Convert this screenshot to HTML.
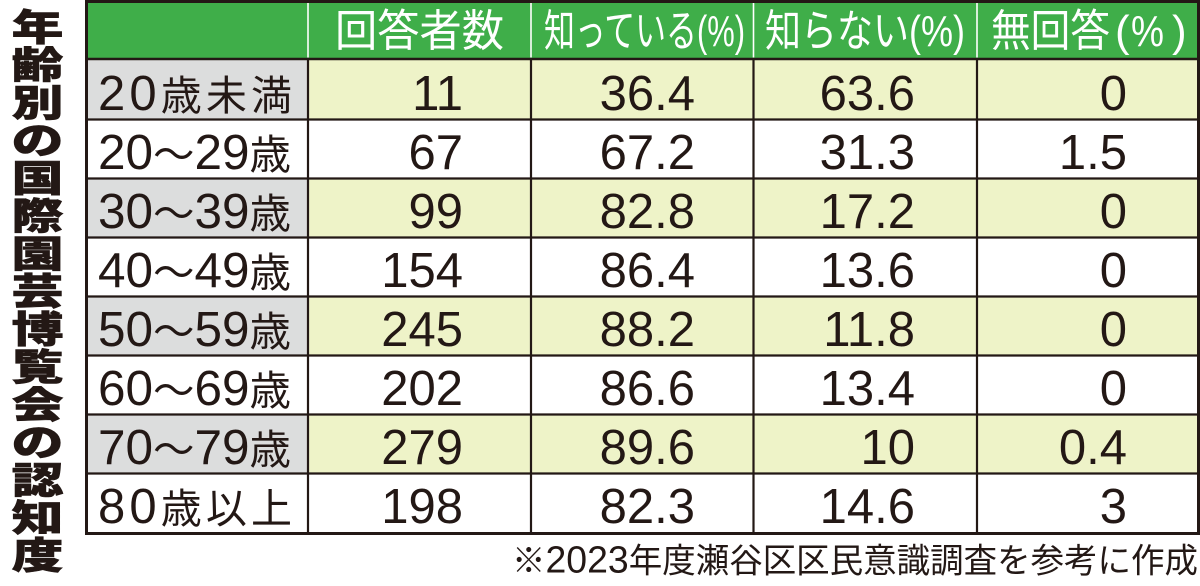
<!DOCTYPE html>
<html lang="ja">
<head>
<meta charset="utf-8">
<style>
  html,body{margin:0;padding:0;background:#fff;}
  svg{display:block;}
  .d{font-family:"Liberation Sans","Noto Sans CJK JP",sans-serif;font-size:49px;fill:#231815;}
  .j{font-family:"Noto Sans CJK JP","Liberation Sans",sans-serif;font-size:41px;fill:#231815;}
  .h{font-family:"Liberation Sans","Noto Sans CJK JP",sans-serif;font-size:44px;fill:#ffffff;}
  .hj{font-family:"Noto Sans CJK JP","Liberation Sans",sans-serif;font-size:44px;fill:#ffffff;}
  .t{font-family:"Noto Sans CJK JP","Liberation Sans",sans-serif;font-size:37px;font-weight:900;fill:#231815;stroke:#231815;stroke-width:0.6;}
  .f{font-family:"Liberation Sans","Noto Sans CJK JP",sans-serif;font-size:34px;fill:#231815;}
</style>
</head>
<body>
<svg width="1200" height="586" viewBox="0 0 1200 586" xmlns="http://www.w3.org/2000/svg">
  <!-- Title (vertical) -->
  <g transform="translate(37.5,0) scale(1.4,1)">
    <text class="t" x="0" y="40.5" text-anchor="middle">年</text>
    <text class="t" x="0" y="78.2" text-anchor="middle">齢</text>
    <text class="t" x="0" y="116" text-anchor="middle">別</text>
    <text class="t" x="0" y="153.7" text-anchor="middle">の</text>
    <text class="t" x="0" y="191.4" text-anchor="middle">国</text>
    <text class="t" x="0" y="229.2" text-anchor="middle">際</text>
    <text class="t" x="0" y="266.9" text-anchor="middle">園</text>
    <text class="t" x="0" y="304.6" text-anchor="middle">芸</text>
    <text class="t" x="0" y="342.3" text-anchor="middle">博</text>
    <text class="t" x="0" y="380.1" text-anchor="middle">覧</text>
    <text class="t" x="0" y="417.8" text-anchor="middle">会</text>
    <text class="t" x="0" y="455.5" text-anchor="middle">の</text>
    <text class="t" x="0" y="493.3" text-anchor="middle">認</text>
    <text class="t" x="0" y="531" text-anchor="middle">知</text>
    <text class="t" x="0" y="568.7" text-anchor="middle">度</text>
  </g>

  <!-- Header background -->
  <rect x="86" y="2" width="1112" height="57" fill="#3fae49"/>

  <!-- Row backgrounds (odd rows shaded) -->
  <g>
    <rect x="88" y="60" width="220" height="59" fill="#dcdddd"/>
    <rect x="308" y="60" width="889" height="59" fill="#eef3c8"/>
    <rect x="88" y="178" width="220" height="59" fill="#dcdddd"/>
    <rect x="308" y="178" width="889" height="59" fill="#eef3c8"/>
    <rect x="88" y="296" width="220" height="59" fill="#dcdddd"/>
    <rect x="308" y="296" width="889" height="59" fill="#eef3c8"/>
    <rect x="88" y="414" width="220" height="59" fill="#dcdddd"/>
    <rect x="308" y="414" width="889" height="59" fill="#eef3c8"/>
  </g>

  <!-- Grid lines -->
  <g stroke="#231815" stroke-width="2.2">
    <line x1="86" y1="119.5" x2="1198" y2="119.5"/>
    <line x1="86" y1="178.5" x2="1198" y2="178.5"/>
    <line x1="86" y1="237.5" x2="1198" y2="237.5"/>
    <line x1="86" y1="296.5" x2="1198" y2="296.5"/>
    <line x1="86" y1="355.5" x2="1198" y2="355.5"/>
    <line x1="86" y1="414.5" x2="1198" y2="414.5"/>
    <line x1="86" y1="473.5" x2="1198" y2="473.5"/>
    <line x1="308" y1="59" x2="308" y2="533"/>
    <line x1="531" y1="59" x2="531" y2="533"/>
    <line x1="753.5" y1="59" x2="753.5" y2="533"/>
    <line x1="977" y1="59" x2="977" y2="533"/>
  </g>
  <line x1="86" y1="59" x2="1198" y2="59" stroke="#231815" stroke-width="2.6"/>
  <!-- header white dividers -->
  <g stroke="#ffffff" stroke-width="1.6">
    <line x1="308" y1="3" x2="308" y2="57.5"/>
    <line x1="531" y1="3" x2="531" y2="57.5"/>
    <line x1="753.5" y1="3" x2="753.5" y2="57.5"/>
    <line x1="977" y1="3" x2="977" y2="57.5"/>
  </g>
  <!-- outer border -->
  <rect x="86.5" y="1.5" width="1112" height="532" fill="none" stroke="#231815" stroke-width="3"/>

  <!-- Header text -->
  <text class="hj" x="335" y="46" textLength="169" lengthAdjust="spacingAndGlyphs">回答者数</text>
  <text class="h" x="544" y="46" textLength="201" lengthAdjust="spacingAndGlyphs">知っている(%)</text>
  <text class="h" x="765" y="46" textLength="200" lengthAdjust="spacingAndGlyphs">知らない(%)</text>
  <text class="hj" x="991" y="46" textLength="119" lengthAdjust="spacingAndGlyphs">無回答</text>
  <text class="h" x="1115" y="46">(</text>
  <text class="h" x="1131" y="46" textLength="33" lengthAdjust="spacingAndGlyphs">%</text>
  <text class="h" x="1172" y="46">)</text>

  <!-- Row labels -->
  <g>
    <text x="98" y="110" textLength="194" lengthAdjust="spacing"><tspan class="d">20</tspan><tspan class="j">歳未満</tspan></text>
    <text x="98" y="169" textLength="193" lengthAdjust="spacingAndGlyphs"><tspan class="d">20</tspan><tspan class="j">〜</tspan><tspan class="d">29</tspan><tspan class="j">歳</tspan></text>
    <text x="98" y="228" textLength="193" lengthAdjust="spacingAndGlyphs"><tspan class="d">30</tspan><tspan class="j">〜</tspan><tspan class="d">39</tspan><tspan class="j">歳</tspan></text>
    <text x="98" y="287" textLength="193" lengthAdjust="spacingAndGlyphs"><tspan class="d">40</tspan><tspan class="j">〜</tspan><tspan class="d">49</tspan><tspan class="j">歳</tspan></text>
    <text x="98" y="346" textLength="193" lengthAdjust="spacingAndGlyphs"><tspan class="d">50</tspan><tspan class="j">〜</tspan><tspan class="d">59</tspan><tspan class="j">歳</tspan></text>
    <text x="98" y="405" textLength="193" lengthAdjust="spacingAndGlyphs"><tspan class="d">60</tspan><tspan class="j">〜</tspan><tspan class="d">69</tspan><tspan class="j">歳</tspan></text>
    <text x="98" y="464" textLength="193" lengthAdjust="spacingAndGlyphs"><tspan class="d">70</tspan><tspan class="j">〜</tspan><tspan class="d">79</tspan><tspan class="j">歳</tspan></text>
    <text x="98" y="523" textLength="194" lengthAdjust="spacing"><tspan class="d">80</tspan><tspan class="j">歳以上</tspan></text>
  </g>

  <!-- Column 2: 回答者数 -->
  <g class="d" text-anchor="end">
    <text x="463" y="110">11</text>
    <text x="463" y="169">67</text>
    <text x="463" y="228">99</text>
    <text x="463" y="287">154</text>
    <text x="463" y="346">245</text>
    <text x="463" y="405">202</text>
    <text x="463" y="464">279</text>
    <text x="463" y="523">198</text>
  </g>
  <!-- Column 3 -->
  <g class="d" text-anchor="end">
    <text x="695" y="110">36.4</text>
    <text x="695" y="169">67.2</text>
    <text x="695" y="228">82.8</text>
    <text x="695" y="287">86.4</text>
    <text x="695" y="346">88.2</text>
    <text x="695" y="405">86.6</text>
    <text x="695" y="464">89.6</text>
    <text x="695" y="523">82.3</text>
  </g>
  <!-- Column 4 -->
  <g class="d" text-anchor="end">
    <text x="915" y="110">63.6</text>
    <text x="915" y="169">31.3</text>
    <text x="915" y="228">17.2</text>
    <text x="915" y="287">13.6</text>
    <text x="915" y="346">11.8</text>
    <text x="915" y="405">13.4</text>
    <text x="915" y="464">10</text>
    <text x="915" y="523">14.6</text>
  </g>
  <!-- Column 5 -->
  <g class="d" text-anchor="end">
    <text x="1127" y="110">0</text>
    <text x="1127" y="169">1.5</text>
    <text x="1127" y="228">0</text>
    <text x="1127" y="287">0</text>
    <text x="1127" y="346">0</text>
    <text x="1127" y="405">0</text>
    <text x="1127" y="464">0.4</text>
    <text x="1127" y="523">3</text>
  </g>

  <!-- Footnote -->
  <text class="f" x="512" y="572.5" textLength="686" lengthAdjust="spacingAndGlyphs">※<tspan style="font-size:38px">2023</tspan>年度瀬谷区区民意識調査を参考に作成</text>
</svg>
</body>
</html>
